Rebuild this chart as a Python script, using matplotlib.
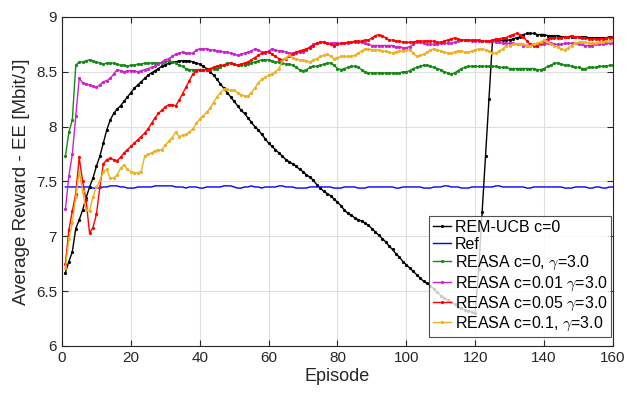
import numpy as np
import matplotlib
matplotlib.use("Agg")
import matplotlib.pyplot as plt

plt.rcParams['font.family'] = ['Liberation Sans', 'DejaVu Sans']
plt.rcParams['mathtext.fontset'] = 'cm'

# ─── Data (one value per episode, 1..160) ────────────────────────────────────

episodes = np.arange(1, 161)

rem_ucb = [
    6.67, 6.77, 6.86, 7.07, 7.15, 7.24, 7.35, 7.45, 7.53, 7.64,
    7.73, 7.85, 7.97, 8.06, 8.12, 8.16, 8.19, 8.23, 8.27, 8.31,
    8.35, 8.38, 8.41, 8.44, 8.47, 8.49, 8.51, 8.53, 8.55, 8.56,
    8.58, 8.59, 8.59, 8.60, 8.60, 8.60, 8.60, 8.59, 8.58, 8.57,
    8.55, 8.53, 8.50, 8.47, 8.43, 8.39, 8.35, 8.31, 8.27, 8.23,
    8.19, 8.15, 8.12, 8.08, 8.04, 8.00, 7.97, 7.93, 7.89, 7.85,
    7.82, 7.79, 7.76, 7.73, 7.70, 7.68, 7.66, 7.64, 7.61, 7.59,
    7.56, 7.54, 7.51, 7.47, 7.44, 7.41, 7.39, 7.37, 7.34, 7.31,
    7.28, 7.24, 7.21, 7.19, 7.17, 7.15, 7.14, 7.12, 7.10, 7.07,
    7.04, 7.01, 6.98, 6.95, 6.91, 6.88, 6.84, 6.81, 6.77, 6.74,
    6.71, 6.68, 6.65, 6.62, 6.59, 6.57, 6.55, 6.52, 6.49, 6.46,
    6.44, 6.42, 6.40, 6.38, 6.36, 6.35, 6.33, 6.32, 6.31, 6.30,
    6.70, 7.22, 7.73, 8.25, 8.78, 8.78, 8.78, 8.79, 8.79, 8.79,
    8.80, 8.81, 8.82, 8.84, 8.85, 8.85, 8.85, 8.84, 8.84, 8.84,
    8.83, 8.83, 8.83, 8.83, 8.82, 8.82, 8.82, 8.82, 8.82, 8.82,
    8.82, 8.82, 8.81, 8.81, 8.81, 8.81, 8.81, 8.81, 8.82, 8.82,
]

ref = [
    7.45, 7.45, 7.45, 7.45, 7.45, 7.45, 7.45, 7.45, 7.44, 7.44,
    7.44, 7.45, 7.45, 7.46, 7.46, 7.46, 7.45, 7.45, 7.44, 7.44,
    7.44, 7.45, 7.45, 7.45, 7.45, 7.45, 7.46, 7.46, 7.46, 7.46,
    7.46, 7.46, 7.45, 7.45, 7.45, 7.44, 7.45, 7.45, 7.45, 7.44,
    7.44, 7.45, 7.45, 7.45, 7.45, 7.45, 7.46, 7.46, 7.46, 7.45,
    7.44, 7.44, 7.45, 7.45, 7.46, 7.45, 7.45, 7.44, 7.45, 7.45,
    7.45, 7.45, 7.46, 7.46, 7.45, 7.45, 7.45, 7.44, 7.44, 7.44,
    7.44, 7.45, 7.45, 7.45, 7.45, 7.45, 7.45, 7.45, 7.44, 7.44,
    7.44, 7.45, 7.45, 7.45, 7.45, 7.44, 7.44, 7.44, 7.45, 7.45,
    7.45, 7.45, 7.45, 7.45, 7.45, 7.45, 7.44, 7.44, 7.45, 7.45,
    7.45, 7.45, 7.45, 7.45, 7.44, 7.44, 7.44, 7.45, 7.45, 7.45,
    7.46, 7.46, 7.45, 7.45, 7.45, 7.44, 7.44, 7.44, 7.45, 7.45,
    7.45, 7.45, 7.45, 7.45, 7.45, 7.46, 7.46, 7.45, 7.45, 7.45,
    7.45, 7.45, 7.45, 7.45, 7.44, 7.44, 7.45, 7.45, 7.45, 7.45,
    7.45, 7.45, 7.45, 7.45, 7.45, 7.44, 7.44, 7.44, 7.45, 7.45,
    7.45, 7.45, 7.44, 7.44, 7.45, 7.45, 7.44, 7.44, 7.45, 7.45,
]

reasa_c0 = [
    7.73, 7.95, 8.06, 8.56, 8.59, 8.59, 8.60, 8.61, 8.60, 8.59,
    8.58, 8.57, 8.58, 8.58, 8.58, 8.57, 8.56, 8.56, 8.55, 8.56,
    8.56, 8.57, 8.57, 8.58, 8.58, 8.58, 8.58, 8.58, 8.58, 8.59,
    8.60, 8.59, 8.58, 8.56, 8.55, 8.53, 8.52, 8.52, 8.52, 8.52,
    8.52, 8.52, 8.52, 8.53, 8.53, 8.54, 8.56, 8.58, 8.58, 8.57,
    8.56, 8.56, 8.56, 8.57, 8.58, 8.59, 8.60, 8.61, 8.61, 8.61,
    8.60, 8.59, 8.59, 8.58, 8.57, 8.57, 8.56, 8.54, 8.52, 8.51,
    8.52, 8.54, 8.55, 8.55, 8.56, 8.57, 8.58, 8.58, 8.56, 8.53,
    8.52, 8.53, 8.54, 8.55, 8.55, 8.54, 8.52, 8.50, 8.49, 8.49,
    8.49, 8.49, 8.49, 8.49, 8.49, 8.49, 8.49, 8.49, 8.50, 8.50,
    8.51, 8.53, 8.54, 8.55, 8.56, 8.56, 8.55, 8.54, 8.53, 8.52,
    8.50, 8.49, 8.48, 8.49, 8.51, 8.53, 8.54, 8.55, 8.55, 8.55,
    8.55, 8.55, 8.55, 8.55, 8.55, 8.55, 8.54, 8.54, 8.54, 8.53,
    8.53, 8.53, 8.53, 8.53, 8.53, 8.53, 8.53, 8.52, 8.52, 8.53,
    8.55, 8.56, 8.58, 8.58, 8.57, 8.56, 8.56, 8.55, 8.54, 8.54,
    8.53, 8.53, 8.54, 8.54, 8.54, 8.55, 8.55, 8.55, 8.56, 8.56,
]

reasa_c001 = [
    7.25, 7.55, 7.75, 8.10, 8.44, 8.40, 8.39, 8.38, 8.37, 8.36,
    8.38, 8.41, 8.42, 8.44, 8.48, 8.52, 8.51, 8.50, 8.51, 8.51,
    8.51, 8.50, 8.51, 8.52, 8.53, 8.54, 8.55, 8.57, 8.59, 8.61,
    8.62, 8.64, 8.66, 8.67, 8.68, 8.67, 8.67, 8.67, 8.70, 8.71,
    8.71, 8.71, 8.70, 8.70, 8.69, 8.69, 8.68, 8.68, 8.67, 8.66,
    8.65, 8.66, 8.67, 8.68, 8.69, 8.71, 8.70, 8.68, 8.67, 8.69,
    8.71, 8.70, 8.69, 8.69, 8.68, 8.67, 8.67, 8.67, 8.68, 8.68,
    8.70, 8.73, 8.75, 8.76, 8.77, 8.77, 8.76, 8.76, 8.76, 8.76,
    8.76, 8.76, 8.76, 8.77, 8.77, 8.77, 8.77, 8.76, 8.75, 8.74,
    8.74, 8.74, 8.74, 8.74, 8.74, 8.74, 8.73, 8.73, 8.72, 8.72,
    8.73, 8.75, 8.77, 8.77, 8.76, 8.75, 8.75, 8.75, 8.75, 8.76,
    8.76, 8.76, 8.76, 8.77, 8.78, 8.79, 8.79, 8.79, 8.78, 8.78,
    8.78, 8.78, 8.78, 8.78, 8.78, 8.77, 8.77, 8.76, 8.76, 8.76,
    8.76, 8.75, 8.75, 8.74, 8.74, 8.75, 8.75, 8.74, 8.75, 8.75,
    8.76, 8.76, 8.75, 8.75, 8.75, 8.76, 8.76, 8.76, 8.76, 8.75,
    8.75, 8.74, 8.74, 8.74, 8.75, 8.75, 8.75, 8.76, 8.76, 8.76,
]

reasa_c005 = [
    6.75, 7.06, 7.23, 7.39, 7.72, 7.50, 7.33, 7.03, 7.08, 7.20,
    7.45, 7.66, 7.70, 7.71, 7.70, 7.69, 7.72, 7.76, 7.79, 7.82,
    7.85, 7.88, 7.91, 7.94, 7.98, 8.03, 8.08, 8.12, 8.15, 8.18,
    8.20, 8.20, 8.19, 8.24, 8.30, 8.36, 8.42, 8.48, 8.51, 8.52,
    8.52, 8.52, 8.53, 8.54, 8.55, 8.56, 8.56, 8.57, 8.58, 8.57,
    8.56, 8.57, 8.58, 8.59, 8.61, 8.63, 8.65, 8.67, 8.68, 8.68,
    8.66, 8.64, 8.62, 8.61, 8.62, 8.64, 8.66, 8.68, 8.69, 8.70,
    8.71, 8.72, 8.74, 8.76, 8.77, 8.77, 8.76, 8.75, 8.74, 8.75,
    8.76, 8.76, 8.77, 8.77, 8.78, 8.78, 8.78, 8.79, 8.79, 8.81,
    8.83, 8.84, 8.83, 8.81, 8.79, 8.79, 8.78, 8.78, 8.77, 8.77,
    8.77, 8.77, 8.78, 8.78, 8.78, 8.78, 8.78, 8.78, 8.77, 8.77,
    8.78, 8.79, 8.80, 8.81, 8.80, 8.79, 8.79, 8.79, 8.79, 8.79,
    8.79, 8.78, 8.78, 8.78, 8.79, 8.80, 8.80, 8.81, 8.81, 8.83,
    8.84, 8.85, 8.84, 8.82, 8.78, 8.75, 8.74, 8.74, 8.76, 8.78,
    8.80, 8.81, 8.81, 8.81, 8.81, 8.82, 8.82, 8.83, 8.82, 8.82,
    8.81, 8.81, 8.80, 8.80, 8.80, 8.80, 8.80, 8.81, 8.81, 8.82,
]

reasa_c01 = [
    6.71, 6.98, 7.12, 7.36, 7.59, 7.41, 7.24, 7.23, 7.36, 7.45,
    7.51, 7.59, 7.61, 7.53, 7.53, 7.56, 7.62, 7.65, 7.61, 7.59,
    7.58, 7.58, 7.59, 7.73, 7.75, 7.76, 7.78, 7.79, 7.79, 7.83,
    7.87, 7.90, 7.95, 7.91, 7.92, 7.93, 7.95, 7.98, 8.03, 8.07,
    8.10, 8.13, 8.17, 8.22, 8.27, 8.31, 8.34, 8.34, 8.33, 8.33,
    8.31, 8.29, 8.28, 8.28, 8.31, 8.35, 8.40, 8.43, 8.45, 8.47,
    8.48, 8.50, 8.53, 8.60, 8.63, 8.65, 8.63, 8.62, 8.61, 8.61,
    8.60, 8.59, 8.61, 8.62, 8.64, 8.65, 8.66, 8.64, 8.62, 8.63,
    8.64, 8.64, 8.64, 8.64, 8.65, 8.67, 8.69, 8.71, 8.71, 8.70,
    8.70, 8.70, 8.69, 8.69, 8.68, 8.67, 8.68, 8.69, 8.69, 8.70,
    8.70, 8.67, 8.64, 8.65, 8.66, 8.68, 8.70, 8.71, 8.70, 8.69,
    8.68, 8.67, 8.67, 8.68, 8.69, 8.69, 8.68, 8.68, 8.69, 8.70,
    8.71, 8.71, 8.70, 8.69, 8.67, 8.67, 8.69, 8.71, 8.74, 8.74,
    8.75, 8.75, 8.75, 8.75, 8.74, 8.74, 8.75, 8.76, 8.77, 8.79,
    8.77, 8.75, 8.74, 8.73, 8.71, 8.70, 8.72, 8.74, 8.76, 8.77,
    8.77, 8.77, 8.76, 8.76, 8.76, 8.77, 8.77, 8.78, 8.78, 8.79,
]

labels = [
    'REM-UCB c=0',
    'Ref',
    r'REASA c=0, $\gamma$=3.0',
    r'REASA c=0.01 $\gamma$=3.0',
    r'REASA c=0.05 $\gamma$=3.0',
    r'REASA c=0.1, $\gamma$=3.0',
]

# ─── Plot ────────────────────────────────────────────────────────────────────

fig = plt.figure(figsize=(6.28, 3.96), dpi=100)
ax = fig.add_axes([0.0987, 0.1263, 0.8774, 0.8308])

dot = dict(marker='.', markersize=2.6, linewidth=1.0)
ax.plot(episodes, rem_ucb,     color='black',   label=labels[0], **dot)
ax.plot(episodes, ref,         color='#0000FF', label=labels[1], linewidth=1.0)
ax.plot(episodes, reasa_c0,    color='#138A13', label=labels[2], **dot)
ax.plot(episodes, reasa_c001,  color='#CC22CC', label=labels[3], **dot)
ax.plot(episodes, reasa_c005,  color='#FF0000', label=labels[4], **dot)
ax.plot(episodes, reasa_c01,   color='#EDB120', label=labels[5], **dot)

ax.set_xlim(0, 160)
ax.set_ylim(6, 9)
ax.set_xticks(np.arange(0, 161, 20))
ax.set_yticks(np.arange(6, 9.01, 0.5))
ax.set_yticklabels(['6', '6.5', '7', '7.5', '8', '8.5', '9'])

ax.grid(True, color='#dfdfdf', linewidth=0.8)
ax.set_axisbelow(True)
for s in ax.spines.values():
    s.set_color('#262626')
    s.set_linewidth(0.8)
ax.tick_params(direction='in', top=True, right=True, length=4,
               labelsize=11, color='#262626', labelcolor='#262626')

ax.set_xlabel('Episode', fontsize=13, color='#262626', labelpad=2)
ax.set_ylabel('Average Reward - EE [Mbit/J]', fontsize=13.5, color='#262626', labelpad=4)

# legend box sits just above the bottom axis, flush with the right edge
leg = ax.legend(loc='lower right', bbox_to_anchor=(0.997, 0.027), borderaxespad=0.0,
                fontsize=11.5, frameon=True, fancybox=False, edgecolor='#262626',
                handlelength=1.15, handletextpad=0.2, borderpad=0.25,
                labelspacing=0.12)
leg.get_frame().set_linewidth(0.8)
leg.set_zorder(10)

fig.savefig('out.png', dpi=100)
